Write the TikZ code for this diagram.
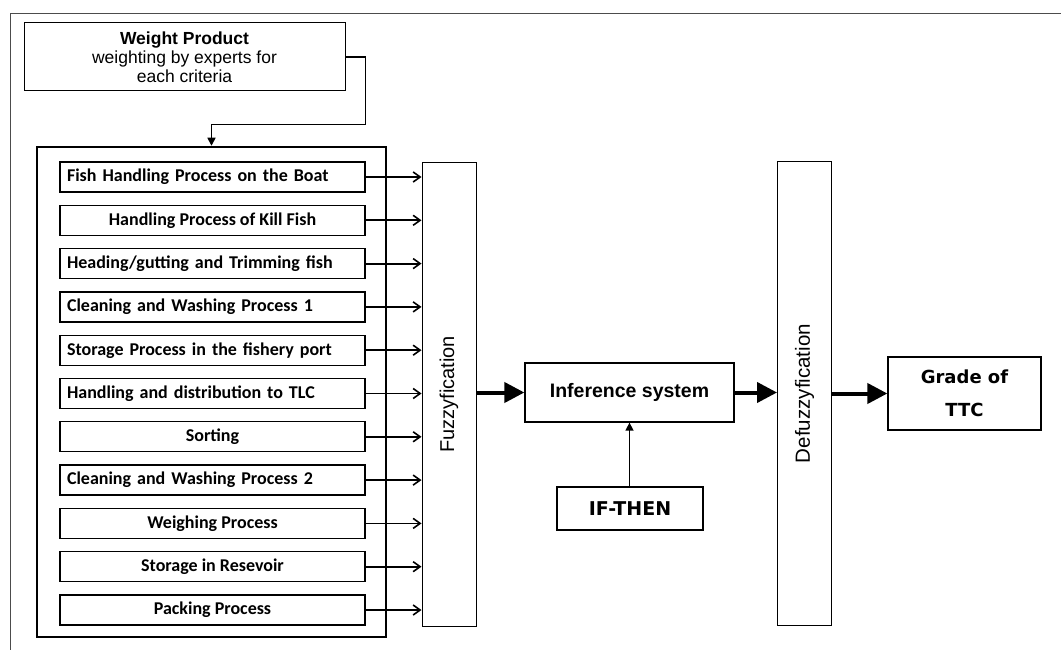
\documentclass[tikz,border=0pt]{standalone}
\usepackage{fontspec}
\setmainfont{Liberation Sans}
\newfontfamily\calib{Carlito}
\newfontfamily\verd{DejaVu Sans}
\usetikzlibrary{arrows.meta,positioning,calc}

\begin{document}
\begin{tikzpicture}[x=1pt, y=-1pt,
    procbox/.style={draw, line width=1.3pt, minimum width=305pt, minimum height=30pt, inner sep=0pt, font=\calib\bfseries\fontsize{18}{20}\selectfont},
    lproc/.style={procbox, text width=291pt, align=left},
    cproc/.style={procbox, align=center},
    stagebox/.style={draw, line width=1pt, minimum width=54pt, minimum height=464pt, inner sep=0pt},
    arr/.style={-{Straight Barb[length=7pt, width=10pt, line width=1.6pt]}, line width=1.8pt},
    fatarr/.style={-{Triangle[length=20pt, width=20pt]}, line width=4pt},
    thinarr/.style={-{Triangle[length=8pt, width=8pt]}, line width=1.5pt}
]
\useasboundingbox (0,0) rectangle (1061,650);
% outer frame
\draw[line width=0.8pt, black!70] (10,650) -- (10,13) -- (1061,13);

\node[draw, line width=1pt, minimum width=321pt, minimum height=68pt, inner sep=0pt, align=center, font=\fontsize{17.5}{19}\selectfont] (weight) at (184.5,57) {\textbf{Weight Product}\\weighting by experts for\\each criteria};

\node[draw, line width=2.5pt, minimum width=349pt, minimum height=490pt, inner sep=0pt] (group) at (211.5,392) {};

\node[lproc] (p1) at (212.5,177) {Fish Handling Process on the Boat};
\node[cproc] (p2) at (212.5,220.3) {Handling Process of Kill Fish};
\node[lproc] (p3) at (212.5,263.6) {Heading/gutting and Trimming fish};
\node[lproc] (p4) at (212.5,306.9) {Cleaning and Washing Process 1};
\node[lproc] (p5) at (212.5,350.2) {Storage Process in the fishery port};
\node[lproc] (p6) at (212.5,393.5) {Handling and distribution to TLC};
\node[cproc] (p7) at (212.5,436.8) {Sorting};
\node[lproc] (p8) at (212.5,480.1) {Cleaning and Washing Process 2};
\node[cproc] (p9) at (212.5,523.4) {Weighing Process};
\node[cproc] (p10) at (212.5,566.7) {Storage in Resevoir};
\node[cproc] (p11) at (212.5,610) {Packing Process};

\node[stagebox] (fuzzy) at (449,394.5) {};
\node[rotate=90, font=\fontsize{20}{22}\selectfont] (fuzzytxt) at (fuzzy.center) {Fuzzyfication};
\node[stagebox, minimum height=463pt] (defuzzy) at (804.5,393.5) {};
\node[rotate=90, font=\fontsize{20.5}{22}\selectfont] (defuzzytxt) at (defuzzy.center) {Defuzzyfication};

\node[draw, line width=1.3pt, minimum width=209pt, minimum height=59pt, inner sep=0pt, font=\bfseries\fontsize{19.5}{21}\selectfont] (infer) at (629.5,392.5) {Inference system};
\node[draw, line width=1.3pt, minimum width=146pt, minimum height=43pt, inner sep=0pt, font=\verd\bfseries\fontsize{19}{21}\selectfont] (rules) at (630,508.5) {IF-THEN};
\node[draw, line width=1.3pt, minimum width=153pt, minimum height=73pt, inner sep=0pt, align=center, font=\verd\bfseries\fontsize{18}{33}\selectfont] (grade) at (964.5,393.5) {Grade of\\TTC};

% weighting into the process group
\draw[thinarr] (weight.east) -- ++(20,0) |- ($(group.north)+(0,-21)$) -- (group.north);

\draw[arr] (p1.east) -- (p1.east -| fuzzy.west);
\draw[arr] (p2.east) -- (p2.east -| fuzzy.west);
\draw[arr] (p3.east) -- (p3.east -| fuzzy.west);
\draw[arr] (p4.east) -- (p4.east -| fuzzy.west);
\draw[arr] (p5.east) -- (p5.east -| fuzzy.west);
\draw[arr] (p6.east) -- (p6.east -| fuzzy.west);
\draw[arr] (p7.east) -- (p7.east -| fuzzy.west);
\draw[arr] (p8.east) -- (p8.east -| fuzzy.west);
\draw[arr] (p9.east) -- (p9.east -| fuzzy.west);
\draw[arr] (p10.east) -- (p10.east -| fuzzy.west);
\draw[arr] (p11.east) -- (p11.east -| fuzzy.west);

\draw[fatarr] (fuzzy.east |- infer.west) -- (infer.west);
\draw[fatarr] (infer.east) -- (infer.east -| defuzzy.west);
\draw[fatarr] (defuzzy.east |- grade.west) -- (grade.west);
\draw[thinarr] (rules.north -| infer.south) -- (infer.south);
\end{tikzpicture}
\end{document}
